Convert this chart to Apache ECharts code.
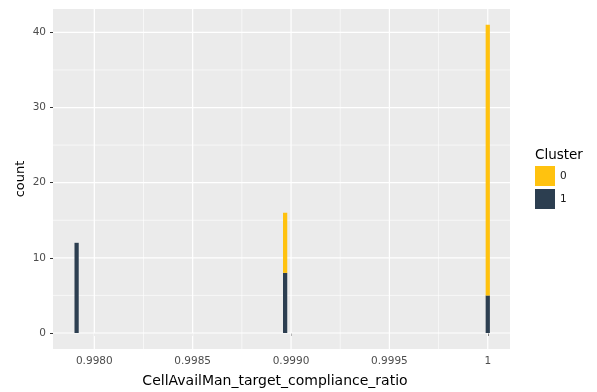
<!DOCTYPE html>
<html>
<head>
<meta charset="utf-8">
<script src="https://cdn.jsdelivr.net/npm/echarts@6/dist/echarts.min.js"></script>
<style>
  html, body { margin: 0; padding: 0; background: #ffffff; }
  #chart { width: 597px; height: 392px; }
</style>
</head>
<body>
<div id="chart"></div>
<script>
// Histogram bins of CellAvailMan_target_compliance_ratio, stacked by cluster
const binCenters = [0.99791, 0.99897, 1.0];
const cluster0Counts = [0, 8, 36];
const cluster1Counts = [12, 8, 5];
const clusterNames = ['0', '1'];

// Axis ticks and labels
const xTicks = [0.998, 0.9985, 0.999, 0.9995, 1.0];
const xTickLabels = ['0.9980', '0.9985', '0.9990', '0.9995', '1'];
const xMinorTicks = [0.99825, 0.99875, 0.99925, 0.99975];
const yTicks = [0, 10, 20, 30, 40];
const yMinorTicks = [5, 15, 25, 35];
const xRange = [0.997790, 1.000113];
const yRange = [-2.13, 43.11];

const FONT = 'DejaVu Sans';
const colors = { '0': '#FFC20F', '1': '#2C3E50' };
const BAR_WIDTH = 0.0000215; // bar width in data units

// Stack: cluster 1 at the bottom, cluster 0 on top of it
const cluster1Rows = binCenters.map((x, i) => [x, 0, cluster1Counts[i]]);
const cluster0Rows = binCenters.map((x, i) => [x, cluster1Counts[i], cluster1Counts[i] + cluster0Counts[i]]);

// Panel grid lines: [orientation, value, isMajor]
const gridRows = [].concat(
  xTicks.map(v => [0, v, 1]),
  xMinorTicks.map(v => [0, v, 0]),
  yTicks.map(v => [1, v, 1]),
  yMinorTicks.map(v => [1, v, 0])
);

function renderGridLine(params, api) {
  const vertical = api.value(0) === 0;
  const v = api.value(1);
  const major = api.value(2) === 1;
  let p1, p2;
  if (vertical) {
    p1 = api.coord([v, yRange[0]]);
    p2 = api.coord([v, yRange[1]]);
  } else {
    p1 = api.coord([xRange[0], v]);
    p2 = api.coord([xRange[1], v]);
  }
  return {
    type: 'line',
    shape: { x1: p1[0], y1: p1[1], x2: p2[0], y2: p2[1] },
    style: { stroke: '#ffffff', lineWidth: major ? 1.2 : 0.6 },
    silent: true
  };
}

function renderBar(color) {
  return function (params, api) {
    const x = api.value(0);
    const lo = api.value(1);
    const hi = api.value(2);
    if (hi <= lo) return null;
    const a = api.coord([x - BAR_WIDTH / 2, hi]);
    const b = api.coord([x + BAR_WIDTH / 2, lo]);
    return {
      type: 'rect',
      shape: { x: a[0], y: a[1], width: b[0] - a[0], height: b[1] - a[1] },
      style: { fill: color }
    };
  };
}

const chart = echarts.init(document.getElementById('chart'), null, { renderer: 'canvas' });

chart.setOption({
  animation: false,
  backgroundColor: '#ffffff',
  textStyle: { fontFamily: FONT },
  title: [{
    text: 'Cluster',
    left: 535,
    top: 148,
    padding: 0,
    textStyle: { fontFamily: FONT, fontSize: 13.5, fontWeight: 'normal', color: '#000000' }
  }],
  legend: {
    data: clusterNames,
    orient: 'vertical',
    left: 535,
    top: 166,
    padding: 0,
    itemWidth: 20,
    itemHeight: 20,
    itemGap: 3,
    icon: 'rect',
    selectedMode: false,
    textStyle: { fontFamily: FONT, fontSize: 10.5, color: '#1a1a1a' }
  },
  grid: {
    left: 53,
    top: 9,
    width: 457,
    height: 340,
    show: true,
    backgroundColor: '#EBEBEB',
    borderWidth: 0,
    containLabel: false,
    outerBoundsMode: 'none'
  },
  xAxis: {
    type: 'value',
    min: xRange[0],
    max: xRange[1],
    name: 'CellAvailMan_target_compliance_ratio',
    nameLocation: 'middle',
    nameGap: 25,
    nameMoveOverlap: false,
    nameTextStyle: { fontFamily: FONT, fontSize: 14, color: '#000000', padding: [0, 13, 0, 0] },
    axisLine: { show: false },
    splitLine: { show: false },
    axisTick: {
      show: true,
      customValues: xTicks,
      length: 3,
      lineStyle: { color: '#333333', width: 1 }
    },
    axisLabel: {
      show: true,
      customValues: xTicks,
      margin: 7,
      fontFamily: FONT,
      fontSize: 10.5,
      color: '#4D4D4D',
      formatter: v => {
        const i = xTicks.findIndex(t => Math.abs(t - v) < 1e-9);
        return i >= 0 ? xTickLabels[i] : '';
      }
    }
  },
  yAxis: {
    type: 'value',
    min: yRange[0],
    max: yRange[1],
    name: 'count',
    nameLocation: 'middle',
    nameGap: 26,
    nameMoveOverlap: false,
    nameRotate: 90,
    nameTextStyle: { fontFamily: FONT, fontSize: 13, color: '#000000' },
    axisLine: { show: false },
    splitLine: { show: false },
    axisTick: {
      show: true,
      customValues: yTicks,
      length: 3,
      lineStyle: { color: '#333333', width: 1 }
    },
    axisLabel: {
      show: true,
      customValues: yTicks,
      margin: 7,
      fontFamily: FONT,
      fontSize: 10.5,
      color: '#4D4D4D',
      formatter: v => String(Math.round(v))
    }
  },
  series: [
    {
      name: 'panel-grid',
      type: 'custom',
      silent: true,
      clip: true,
      z: 1,
      renderItem: renderGridLine,
      encode: { x: 1, y: 1 },
      data: gridRows
    },
    {
      name: '1',
      type: 'custom',
      z: 3,
      clip: true,
      itemStyle: { color: colors['1'] },
      renderItem: renderBar(colors['1']),
      encode: { x: 0, y: [1, 2] },
      data: cluster1Rows
    },
    {
      name: '0',
      type: 'custom',
      z: 3,
      clip: true,
      itemStyle: { color: colors['0'] },
      renderItem: renderBar(colors['0']),
      encode: { x: 0, y: [1, 2] },
      data: cluster0Rows
    }
  ]
});
</script>
</body>
</html>
